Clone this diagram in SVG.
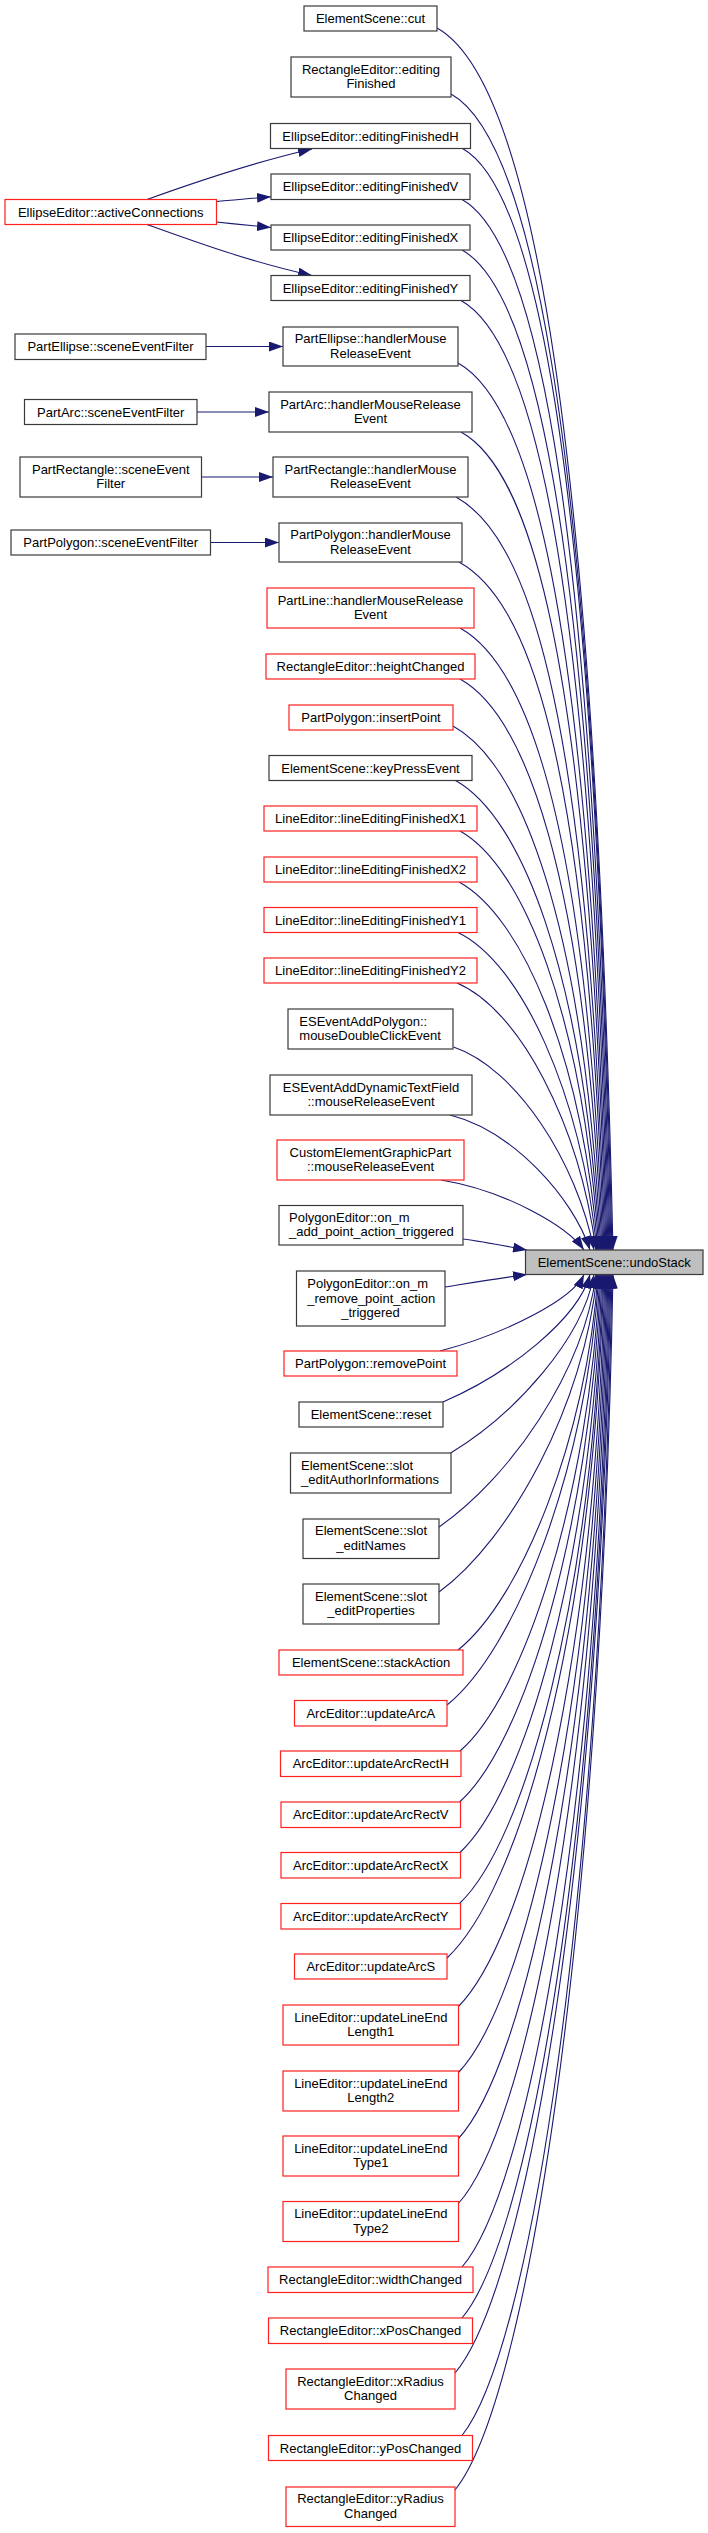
<svg xmlns="http://www.w3.org/2000/svg" width="708" height="2533" viewBox="0 0 708 2533">
<style>
.b{fill:#fff;stroke:#3a3a3a;stroke-width:1.2}
.r{fill:#fff;stroke:#ff2020;stroke-width:1.2}
.t{fill:#bfbfbf;stroke:#3a3a3a;stroke-width:1.2}
text{font-family:"Liberation Sans",Arial,sans-serif;font-size:13px;fill:#000}
.m{text-anchor:middle}
#edges path{fill:none;stroke:#191970;stroke-width:1.1;marker-end:url(#a)}
</style>
<defs>
<marker id="a" markerUnits="userSpaceOnUse" markerWidth="14" markerHeight="10" viewBox="0 0 14 10" refX="14" refY="5" orient="auto"><path d="M0,0 L14,5 L0,10 Z" fill="#191970" stroke="none"/></marker>
</defs>
<rect width="708" height="2533" fill="#fff"/>
<g id="edges">
<path d="M147,199.5 C190,184 250,163 312,149"/>
<path d="M216.5,201.5 C235,200 255,198 271,196.8"/>
<path d="M216.5,222 C235,224 255,226 271,227.5"/>
<path d="M147,224.5 C190,240 250,262 312,275.5"/>
<path d="M206,346.5 L283,346.5"/>
<path d="M197,412 L269,412"/>
<path d="M201.5,477 L273,477"/>
<path d="M210.5,542.5 L279,542.5"/>
<path d="M437,28 C516.2,72 591.9,333.5 613,1250"/>
<path d="M451,94 C523.5,134.3 592.7,383 612,1250"/>
<path d="M462.5,148.5 C529.3,185.6 593.2,424 611,1250"/>
<path d="M462,199.5 C528.6,236.5 592.2,462 610,1250"/>
<path d="M462,250 C528.2,286.8 591.4,500 609,1250"/>
<path d="M461,300.5 C527.2,337.3 590.4,538 608,1250"/>
<path d="M458,363 C525,400.3 589.1,585 607,1250"/>
<path d="M461,432 C526.3,468.3 588.6,636.5 606,1250"/>
<path d="M456,497 C523,534.3 587.1,685 605,1250"/>
<path d="M459,562 C524.3,598.3 586.6,739.5 604,1250"/>
<path d="M460,628 C524.4,663.8 585.8,814.6 603,1250"/>
<path d="M460,679 C523.9,714.5 585,869.1 602,1250"/>
<path d="M453,726 C519.6,763 583.2,916.2 601,1250"/>
<path d="M455.5,780.5 C520.5,816.6 582.7,967.4 600,1250"/>
<path d="M460,831 C522.6,865.8 582.3,1011.6 599,1250"/>
<path d="M459,882 C521.6,916.4 581.3,1052.4 598,1250"/>
<path d="M458,932.5 C520.6,962.9 580.3,1090 597,1250"/>
<path d="M457,983 C519.6,1009.4 579.3,1124 596,1250"/>
<path d="M453.5,1047 C516.7,1068.2 577.1,1162.7 594,1250"/>
<path d="M450,1115 C513,1130.8 573.2,1197.8 590,1250"/>
<path d="M441,1180 C505.4,1190.6 566.8,1225.8 584,1250"/>
<path d="M463,1239 C485,1242 505,1246 527,1250"/>
<path d="M445,1287 C470,1283 500,1278 527,1274.5"/>
<path d="M440,1351 C504.8,1334.1 572.5,1299.5 584,1274.5"/>
<path d="M443,1402 C509.2,1373.5 578.2,1318.6 590,1274.5"/>
<path d="M450.7,1453 C515.2,1413.9 582.5,1339.5 594,1274.5"/>
<path d="M439,1527 C509.7,1477.7 583.4,1373 596,1274.5"/>
<path d="M439,1592 C510.1,1539.8 584.4,1405.6 597,1274.5"/>
<path d="M458,1650 C521,1600 586.8,1437.5 598,1274.5"/>
<path d="M447,1705 C515.4,1649.8 586.8,1469.9 599,1274.5"/>
<path d="M460,1751 C523,1696.9 588.8,1498.5 600,1274.5"/>
<path d="M459.5,1802 C523.2,1745.5 589.7,1531.9 601,1274.5"/>
<path d="M459.5,1853 C523.6,1794.3 590.6,1567.8 602,1274.5"/>
<path d="M459.5,1903.5 C524.1,1842.4 591.5,1604.7 603,1274.5"/>
<path d="M447,1958 C517.7,1891.4 591.4,1646.3 604,1274.5"/>
<path d="M458,2007 C524.2,1940.9 593.2,1677.4 605,1274.5"/>
<path d="M458,2073 C524.6,2004.1 594.2,1713.7 606,1274.5"/>
<path d="M458,2139 C525,2067.2 595.1,1750 607,1274.5"/>
<path d="M458,2204 C525.5,2129.3 596,1785.7 608,1274.5"/>
<path d="M462,2267 C528.2,2190.6 597.2,1820.4 609,1274.5"/>
<path d="M462,2318 C528.6,2239.3 598.2,1848.4 610,1274.5"/>
<path d="M455,2373 C525.2,2290.1 598.5,1878.7 611,1274.5"/>
<path d="M462,2435.5 C529.5,2351.6 600,1913.1 612,1274.5"/>
<path d="M455,2490 C526.1,2401.9 600.4,1943 613,1274.5"/>
</g>
<g id="target"><rect class="t" x="525.5" y="1250" width="177.5" height="24.5"/><text class="m" x="614.25" y="1266.75">ElementScene::undoStack</text></g>
<g id="activeConnections"><rect class="r" x="5" y="199.5" width="211.5" height="25"/><text class="m" x="110.75" y="216.5">EllipseEditor::activeConnections</text></g>
<g id="ellipseFilter"><rect class="b" x="15" y="334" width="191" height="25.5"/><text class="m" x="110.5" y="351.25">PartEllipse::sceneEventFilter</text></g>
<g id="arcFilter"><rect class="b" x="24.5" y="399.5" width="172.5" height="25"/><text class="m" x="110.75" y="416.5">PartArc::sceneEventFilter</text></g>
<g id="rectFilter"><rect class="b" x="20" y="457" width="181.5" height="40"/><text class="m" x="110.75" y="473.5">PartRectangle::sceneEvent</text><text class="m" x="110.75" y="488">Filter</text></g>
<g id="polyFilter"><rect class="b" x="11" y="530" width="199.5" height="25"/><text class="m" x="110.75" y="547">PartPolygon::sceneEventFilter</text></g>
<g id="n1"><rect class="b" x="304" y="6" width="133" height="25"/><text class="m" x="370.5" y="23">ElementScene::cut</text></g>
<g id="n2"><rect class="b" x="291" y="57" width="160" height="40"/><text class="m" x="371" y="73.5">RectangleEditor::editing</text><text class="m" x="371" y="88">Finished</text></g>
<g id="n3"><rect class="b" x="270.5" y="123.5" width="200" height="25"/><text class="m" x="370.5" y="140.5">EllipseEditor::editingFinishedH</text></g>
<g id="n4"><rect class="b" x="271" y="174" width="199" height="25.5"/><text class="m" x="370.5" y="191.2">EllipseEditor::editingFinishedV</text></g>
<g id="n5"><rect class="b" x="271" y="225" width="199" height="25"/><text class="m" x="370.5" y="242">EllipseEditor::editingFinishedX</text></g>
<g id="n6"><rect class="b" x="271" y="275.5" width="199" height="25"/><text class="m" x="370.5" y="292.5">EllipseEditor::editingFinishedY</text></g>
<g id="n7"><rect class="b" x="283" y="327" width="175" height="39"/><text class="m" x="370.5" y="343">PartEllipse::handlerMouse</text><text class="m" x="370.5" y="357.5">ReleaseEvent</text></g>
<g id="n8"><rect class="b" x="269" y="392" width="203" height="40"/><text class="m" x="370.5" y="408.5">PartArc::handlerMouseRelease</text><text class="m" x="370.5" y="423">Event</text></g>
<g id="n9"><rect class="b" x="273" y="457" width="195" height="40"/><text class="m" x="370.5" y="473.5">PartRectangle::handlerMouse</text><text class="m" x="370.5" y="488">ReleaseEvent</text></g>
<g id="n10"><rect class="b" x="279" y="523" width="183" height="39"/><text class="m" x="370.5" y="539">PartPolygon::handlerMouse</text><text class="m" x="370.5" y="553.5">ReleaseEvent</text></g>
<g id="n11"><rect class="r" x="267" y="588" width="207" height="40"/><text class="m" x="370.5" y="604.5">PartLine::handlerMouseRelease</text><text class="m" x="370.5" y="619">Event</text></g>
<g id="n12"><rect class="r" x="266" y="654" width="209" height="25"/><text class="m" x="370.5" y="671">RectangleEditor::heightChanged</text></g>
<g id="n13"><rect class="r" x="289" y="705" width="164" height="25"/><text class="m" x="371" y="722">PartPolygon::insertPoint</text></g>
<g id="n14"><rect class="b" x="269" y="755.5" width="203" height="25"/><text class="m" x="370.5" y="772.5">ElementScene::keyPressEvent</text></g>
<g id="n15"><rect class="r" x="264" y="806" width="213" height="25"/><text class="m" x="370.5" y="823">LineEditor::lineEditingFinishedX1</text></g>
<g id="n16"><rect class="r" x="264" y="857" width="213" height="25"/><text class="m" x="370.5" y="874">LineEditor::lineEditingFinishedX2</text></g>
<g id="n17"><rect class="r" x="264" y="907.5" width="213" height="25"/><text class="m" x="370.5" y="924.5">LineEditor::lineEditingFinishedY1</text></g>
<g id="n18"><rect class="r" x="264" y="958" width="213" height="25"/><text class="m" x="370.5" y="975">LineEditor::lineEditingFinishedY2</text></g>
<g id="n19"><rect class="b" x="288" y="1009" width="165" height="40"/><text x="299.3" y="1025.5">ESEventAddPolygon::</text><text x="299.3" y="1040">mouseDoubleClickEvent</text></g>
<g id="n20"><rect class="b" x="270" y="1075" width="202" height="40"/><text class="m" x="371" y="1091.5">ESEventAddDynamicTextField</text><text class="m" x="371" y="1106">::mouseReleaseEvent</text></g>
<g id="n21"><rect class="r" x="277" y="1140" width="187" height="40"/><text class="m" x="370.5" y="1156.5">CustomElementGraphicPart</text><text class="m" x="370.5" y="1171">::mouseReleaseEvent</text></g>
<g id="n22"><rect class="b" x="279" y="1205.5" width="184" height="39.5"/><text x="289" y="1221.75">PolygonEditor::on_m</text><text x="289" y="1236.25">_add_point_action_triggered</text></g>
<g id="n23"><rect class="b" x="296.5" y="1271" width="148.5" height="55"/><text x="307.3" y="1288.3">PolygonEditor::on_m</text><text x="307.3" y="1302.8">_remove_point_action</text><text class="m" x="370.5" y="1317.3">_triggered</text></g>
<g id="n24"><rect class="r" x="284" y="1351" width="173" height="25"/><text class="m" x="370.5" y="1368">PartPolygon::removePoint</text></g>
<g id="n25"><rect class="b" x="299" y="1402" width="144" height="25"/><text class="m" x="371" y="1419">ElementScene::reset</text></g>
<g id="n26"><rect class="b" x="290.5" y="1453" width="160.5" height="40"/><text x="301" y="1469.5">ElementScene::slot</text><text x="301" y="1484">_editAuthorInformations</text></g>
<g id="n27"><rect class="b" x="303" y="1519" width="136" height="39.5"/><text class="m" x="371" y="1535.25">ElementScene::slot</text><text class="m" x="371" y="1549.75">_editNames</text></g>
<g id="n28"><rect class="b" x="303" y="1584" width="136" height="40"/><text class="m" x="371" y="1600.5">ElementScene::slot</text><text class="m" x="371" y="1615">_editProperties</text></g>
<g id="n29"><rect class="r" x="279" y="1650" width="184" height="25"/><text class="m" x="371" y="1667">ElementScene::stackAction</text></g>
<g id="n30"><rect class="r" x="294.5" y="1700.5" width="152.5" height="25.5"/><text class="m" x="370.75" y="1717.75">ArcEditor::updateArcA</text></g>
<g id="n31"><rect class="r" x="280.5" y="1751" width="180.5" height="25.5"/><text class="m" x="370.75" y="1768.25">ArcEditor::updateArcRectH</text></g>
<g id="n32"><rect class="r" x="281" y="1802" width="179.5" height="25.5"/><text class="m" x="370.75" y="1819.25">ArcEditor::updateArcRectV</text></g>
<g id="n33"><rect class="r" x="281" y="1852.5" width="179.5" height="25.5"/><text class="m" x="370.75" y="1869.75">ArcEditor::updateArcRectX</text></g>
<g id="n34"><rect class="r" x="281" y="1903.5" width="179.5" height="25.5"/><text class="m" x="370.75" y="1920.75">ArcEditor::updateArcRectY</text></g>
<g id="n35"><rect class="r" x="294.5" y="1954" width="152.5" height="25"/><text class="m" x="370.75" y="1971">ArcEditor::updateArcS</text></g>
<g id="n36"><rect class="r" x="283" y="2005" width="175.5" height="40"/><text class="m" x="370.75" y="2021.5">LineEditor::updateLineEnd</text><text class="m" x="370.75" y="2036">Length1</text></g>
<g id="n37"><rect class="r" x="283" y="2071" width="175.5" height="40"/><text class="m" x="370.75" y="2087.5">LineEditor::updateLineEnd</text><text class="m" x="370.75" y="2102">Length2</text></g>
<g id="n38"><rect class="r" x="283" y="2136" width="175.5" height="40"/><text class="m" x="370.75" y="2152.5">LineEditor::updateLineEnd</text><text class="m" x="370.75" y="2167">Type1</text></g>
<g id="n39"><rect class="r" x="283" y="2201.5" width="175.5" height="40"/><text class="m" x="370.75" y="2218">LineEditor::updateLineEnd</text><text class="m" x="370.75" y="2232.5">Type2</text></g>
<g id="n40"><rect class="r" x="268" y="2267" width="205" height="25.5"/><text class="m" x="370.5" y="2284.25">RectangleEditor::widthChanged</text></g>
<g id="n41"><rect class="r" x="268.5" y="2318" width="204" height="25.5"/><text class="m" x="370.5" y="2335.25">RectangleEditor::xPosChanged</text></g>
<g id="n42"><rect class="r" x="286" y="2369" width="169" height="40"/><text class="m" x="370.5" y="2385.5">RectangleEditor::xRadius</text><text class="m" x="370.5" y="2400">Changed</text></g>
<g id="n43"><rect class="r" x="268.5" y="2435.5" width="204" height="25"/><text class="m" x="370.5" y="2452.5">RectangleEditor::yPosChanged</text></g>
<g id="n44"><rect class="r" x="286" y="2487" width="169" height="39.5"/><text class="m" x="370.5" y="2503.25">RectangleEditor::yRadius</text><text class="m" x="370.5" y="2517.75">Changed</text></g>
</svg>
